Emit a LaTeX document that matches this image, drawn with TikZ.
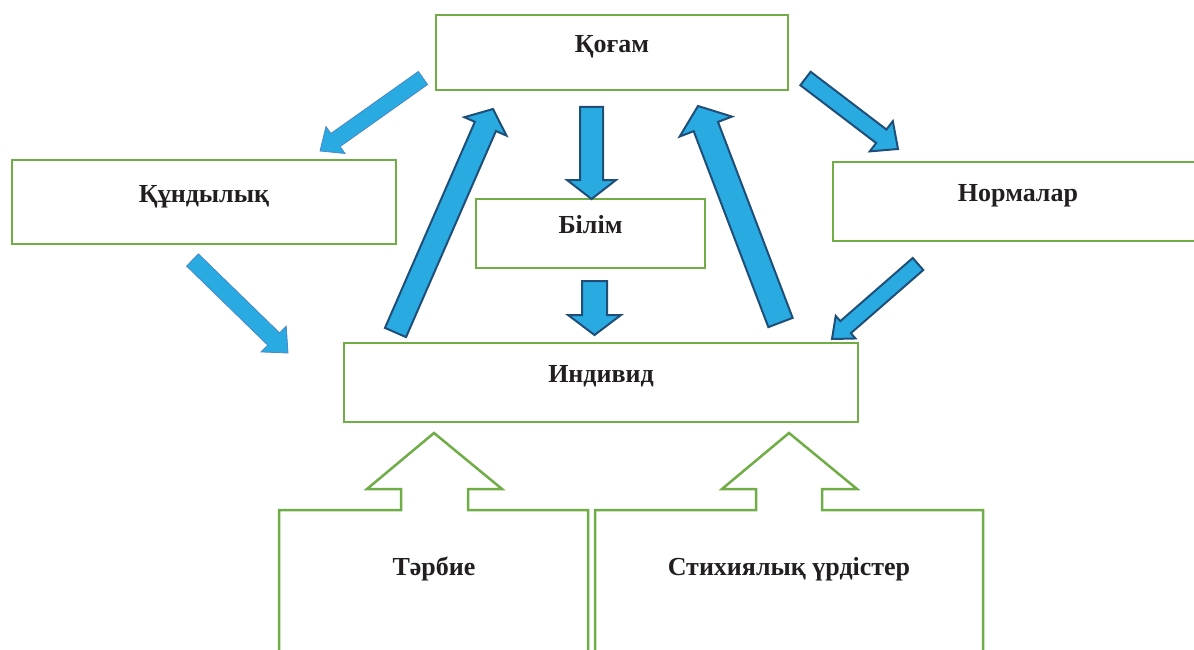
\documentclass[tikz,border=0pt]{standalone}
\usepackage{fontspec}
\setmainfont{Liberation Serif}
\usetikzlibrary{calc}
\definecolor{boxgreen}{HTML}{70AD47}
\definecolor{arrowblue}{HTML}{29ABE2}
\definecolor{arrowedge}{HTML}{1F4E79}
\definecolor{lightedge}{HTML}{4A86C8}
\definecolor{inkblack}{HTML}{231F20}
\tikzset{
  box/.style={draw=boxgreen, line width=2.5pt, inner sep=0pt, font=\fontsize{26}{30}\selectfont\bfseries, text=inkblack},
  boxdim/.style 2 args={minimum width=#1, text height=#2, text depth=#2},
  callout/.style={draw=boxgreen, line width=2.5pt, line join=miter},
  lbl/.style={font=\fontsize{26}{30}\selectfont\bfseries, text=inkblack, anchor=base, inner sep=0pt},
  fatarrow/.style={fill=arrowblue, draw=arrowedge, line width=2pt, line join=miter},
  thinarrow/.style={fill=arrowblue, draw=lightedge, line width=0.8pt, line join=miter}
}
% block arrow: [style]{tail}{tip}{half shaft}{half head}{head length}
\newcommand{\blockarrow}[6][fatarrow]{%
  \coordinate (hb) at ($(#3)!#6!(#2)$);
  \draw[#1] ($(#2)!#4!90:(#3)$) -- ($(hb)!#4!-90:(#2)$) -- ($(hb)!#5!-90:(#2)$) -- (#3)
    -- ($(hb)!#5!90:(#2)$) -- ($(hb)!#4!90:(#2)$) -- ($(#2)!#4!-90:(#3)$) -- cycle;}
\begin{document}
\begin{tikzpicture}[x=1pt, y=-1pt]
\useasboundingbox (0,0) rectangle (1194,650);
\clip (0,0) rectangle (1194,650);

% boxes
\node[box, boxdim={352pt}{37.5pt}] (qogam) at (612,52.5) {Қоғам};
\node[box, boxdim={384pt}{42pt}] (qundy) at (204,202) {Құндылық};
\node[box, boxdim={370pt}{39.5pt}] (norm) at (1018,201.5) {Нормалар};
\node[box, boxdim={229pt}{34.5pt}] (bilim) at (590.5,233.5) {Білім};
\node[box, boxdim={514pt}{39.5pt}] (indiv) at (601,382.5) {Индивид};

% bottom callouts
\draw[callout] (279,670) -- (279,510) -- (401,510) -- (401,489) -- (367,489) -- (434,433)
  -- (502,489) -- (468,489) -- (468,510) -- (588,510) -- (588,670);
\node[lbl] (tarbie) at (434,575) {Тәрбие};
\draw[callout] (595,670) -- (595,510) -- (756,510) -- (756,489) -- (722,489) -- (789,433)
  -- (857,489) -- (822,489) -- (822,510) -- (983,510) -- (983,670);
\node[lbl] (stix) at (789,575) {Стихиялық үрдістер};

% arrow ends
\coordinate (q2k-a) at (423,78);     \coordinate (q2k-b) at (320,151);
\coordinate (k2i-a) at (192.5,260);  \coordinate (k2i-b) at (288,353);
\coordinate (i2ql-a) at (395.5,332.5); \coordinate (i2ql-b) at (493,109);
\coordinate (q2b-a) at (591.5,107);  \coordinate (q2b-b) at (591.5,199);
\coordinate (b2i-a) at (594.5,281);  \coordinate (b2i-b) at (594.5,335);
\coordinate (i2qr-a) at (780.5,322.5); \coordinate (i2qr-b) at (698,106);
\coordinate (q2n-a) at (805.5,78.5); \coordinate (q2n-b) at (898,149);
\coordinate (n2i-a) at (918,264);    \coordinate (n2i-b) at (832,339);

% block arrows
\blockarrow[thinarrow]{q2k-a}{q2k-b}{8pt}{16.5pt}{19pt}
\blockarrow[thinarrow]{k2i-a}{k2i-b}{8.5pt}{18pt}{20pt}
\blockarrow{i2ql-a}{i2ql-b}{11.5pt}{23pt}{19pt}
\blockarrow{q2b-a}{q2b-b}{11.5pt}{24.5pt}{19pt}
\blockarrow{b2i-a}{b2i-b}{12.5pt}{26.5pt}{20pt}
\blockarrow{i2qr-a}{i2qr-b}{13pt}{28pt}{22pt}
\blockarrow{q2n-a}{q2n-b}{8.5pt}{19pt}{21pt}
\blockarrow{n2i-a}{n2i-b}{8pt}{15pt}{18pt}
\end{tikzpicture}
\end{document}
